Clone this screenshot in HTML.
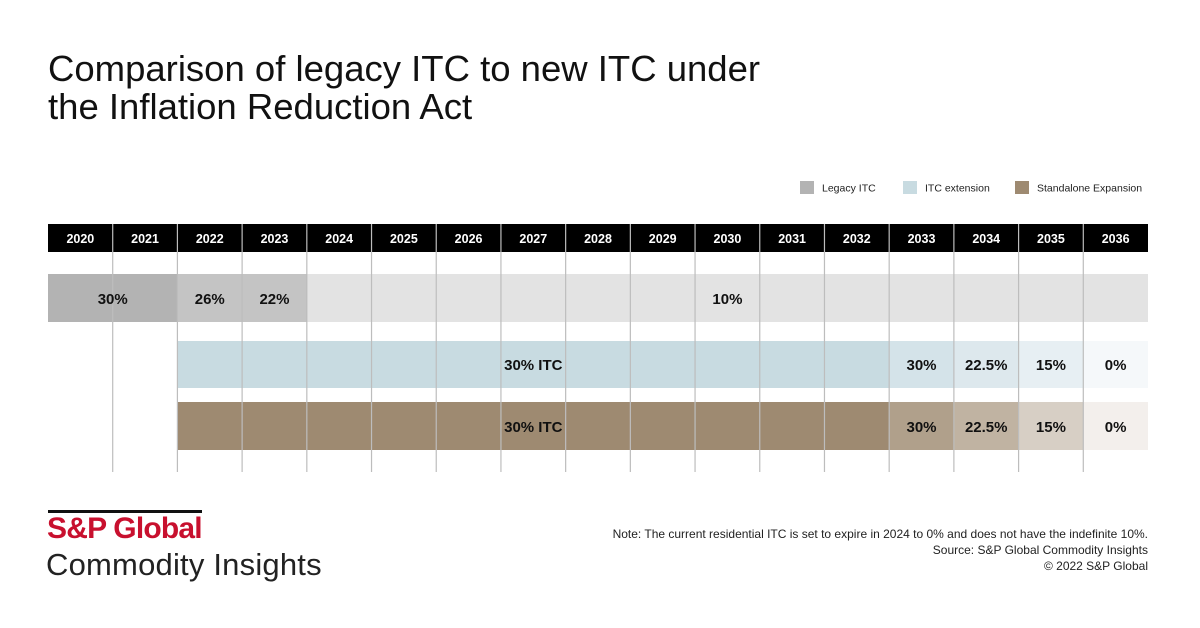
<!DOCTYPE html>
<html><head><meta charset="utf-8"><style>
body{margin:0;background:#fff}
#wrap{position:relative;width:1200px;height:628px;overflow:hidden;background:#fff;font-family:"Liberation Sans",Arial,sans-serif}
.t{position:absolute;white-space:nowrap}
</style></head><body>
<div id="wrap">
<div class="t" style="left:48px;top:50px;font-size:36.5px;line-height:38px;color:#111">Comparison of legacy ITC to new ITC under<br>the Inflation Reduction Act</div>
<svg id="c" width="1200" height="628" style="position:absolute;left:0;top:0"></svg>
<div style="position:absolute;left:48px;top:510px;width:154px;height:3px;background:#111"></div>
<div class="t" style="left:47px;top:512px;font-size:30px;font-weight:bold;color:#c8102e;letter-spacing:-0.8px">S&amp;P Global</div>
<div class="t" style="left:46px;top:547px;font-size:31px;color:#222;letter-spacing:0.2px">Commodity Insights</div>
<div class="t" style="right:52px;top:526px;font-size:12px;line-height:16px;color:#222;text-align:right">Note: The current residential ITC is set to expire in 2024 to 0% and does not have the indefinite 10%.<br>Source: S&amp;P Global Commodity Insights<br>© 2022 S&amp;P Global</div>
</div>
<script>
const years=[2020,2021,2022,2023,2024,2025,2026,2027,2028,2029,2030,2031,2032,2033,2034,2035,2036];
const legacySegs=[{s:0,e:2,label:"30%",color:"#b3b3b3"},{s:2,e:3,label:"26%",color:"#c4c4c4"},{s:3,e:4,label:"22%",color:"#c4c4c4"},{s:4,e:17,label:"",color:"#e3e3e3"}];
const legacyLabel10={col:10,label:"10%"};
const extSegs=[{s:2,e:13,label:"30% ITC",color:"#c8dbe1"},{s:13,e:14,label:"30%",color:"#d4e3e9"},{s:14,e:15,label:"22.5%",color:"#dde8ed"},{s:15,e:16,label:"15%",color:"#e7eff3"},{s:16,e:17,label:"0%",color:"#f5f8fa"}];
const stdSegs=[{s:2,e:13,label:"30% ITC",color:"#9e8a71"},{s:13,e:14,label:"30%",color:"#b0a08b"},{s:14,e:15,label:"22.5%",color:"#c0b3a2"},{s:15,e:16,label:"15%",color:"#d7cfc5"},{s:16,e:17,label:"0%",color:"#f3efec"}];
const legendItems=[{label:"Legacy ITC",color:"#b3b3b3"},{label:"ITC extension",color:"#c8dbe1"},{label:"Standalone Expansion",color:"#9e8a71"}];

const svg=document.getElementById('c');const NS='http://www.w3.org/2000/svg';
const x0=48,cw=(1148-48)/years.length;
const X=i=>x0+i*cw;
function mk(t,a){const e=document.createElementNS(NS,t);for(const k in a)e.setAttribute(k,a[k]);svg.appendChild(e);return e;}
const hdr=mk('rect',{x:X(0),y:224,width:X(years.length)-X(0),height:28,fill:'#000'});


years.forEach((y,i)=>{const t=mk('text',{x:X(i)+cw/2,y:243,'text-anchor':'middle','font-size':12.5,'font-weight':'bold',fill:'#fff','font-family':'Liberation Sans, Arial, sans-serif'});t.textContent=y;

});
function row(segs,y,h,name){segs.forEach(s=>{const r=mk('rect',{x:X(s.s),y:y,width:X(s.e)-X(s.s),height:h,fill:s.color});

});}
row(legacySegs,274,48,'legacy-itc');row(extSegs,341,47,'itc-extension');row(stdSegs,402,48,'standalone-expansion');
for(let i=1;i<years.length;i++){const l=mk('line',{x1:X(i),x2:X(i),y1:224,y2:472,stroke:'#bdbdbd','stroke-width':1.2});

}
function labels(segs,y,name){segs.forEach(s=>{if(!s.label)return;const t=mk('text',{x:(X(s.s)+X(s.e))/2,y:y,'text-anchor':'middle','font-size':15,'font-weight':'bold',fill:'#111','font-family':'Liberation Sans, Arial, sans-serif'});t.textContent=s.label;

});}
labels(legacySegs,304,'legacy-itc');labels(extSegs,370,'itc-extension');labels(stdSegs,432,'standalone-expansion');
const t10=mk('text',{x:X(legacyLabel10.col)+cw/2,y:304,'text-anchor':'middle','font-size':15,'font-weight':'bold',fill:'#111','font-family':'Liberation Sans, Arial, sans-serif'});t10.textContent=legacyLabel10.label;


const lx=[800,903,1015];
legendItems.forEach((it,i)=>{const r=mk('rect',{x:lx[i],y:181,width:14,height:13,fill:it.color});


const t=mk('text',{x:lx[i]+22,y:191.5,'font-size':10.5,fill:'#222','font-family':'Liberation Sans, Arial, sans-serif'});t.textContent=it.label;

});
</script>
</body></html>
